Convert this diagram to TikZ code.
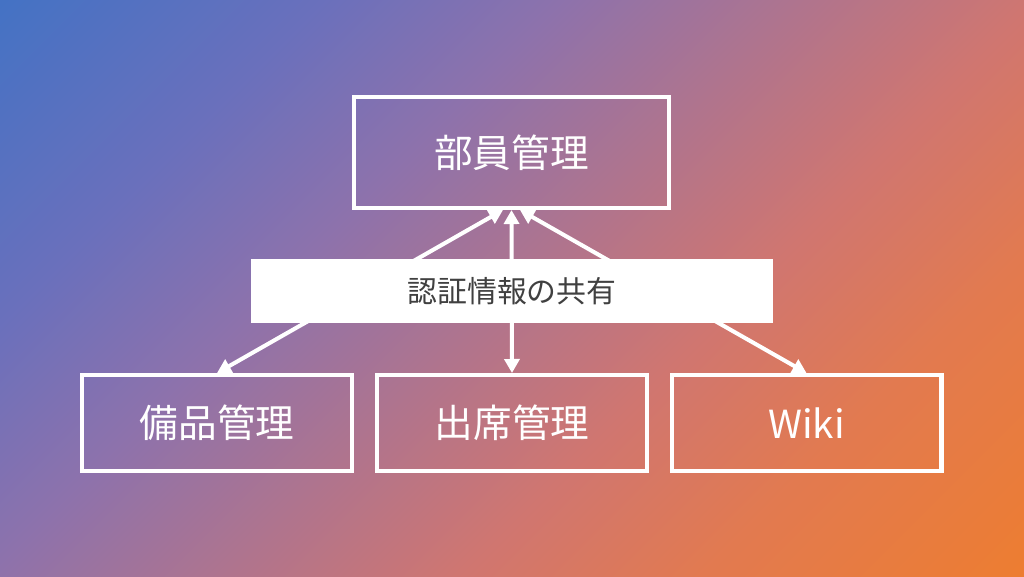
\documentclass[tikz,border=0pt]{standalone}
\usepackage{fontspec}
\newfontfamily\jpfont{Noto Sans CJK JP}
\usepackage{xcolor}
\usepackage{tikz}
\usetikzlibrary{positioning,arrows.meta}

\definecolor{bgblue}{HTML}{4472C4}
\definecolor{bgviolet}{HTML}{6A70BC}
\definecolor{bgpurple}{HTML}{8D72AC}
\definecolor{bgmid}{HTML}{AF748E}
\definecolor{bgsalmon}{HTML}{D07670}
\definecolor{bgcoral}{HTML}{E27A50}
\definecolor{bgorange}{HTML}{ED7D31}
\definecolor{labeltext}{HTML}{404040}

\pgfdeclarehorizontalshading{slidebg}{100bp}{color(0bp)=(bgblue); color(25bp)=(bgblue);
  color(35bp)=(bgviolet); color(42.5bp)=(bgpurple); color(50bp)=(bgmid);
  color(57.5bp)=(bgsalmon); color(65bp)=(bgcoral); color(75bp)=(bgorange); color(100bp)=(bgorange)}

\tikzset{
  sysbox/.style={draw=white, line width=2.3pt, text=white, inner sep=0pt,
    font=\jpfont\fontsize{22}{26}\selectfont},
  share/.style={fill=white, text=labeltext, inner sep=0pt,
    minimum width=10.44cm, minimum height=1.28cm,
    font=\jpfont\fontsize{17}{20}\selectfont},
  link/.style={draw=white, line width=2.3pt,
    {Triangle[length=0.28cm,width=0.3cm]}-{Triangle[length=0.28cm,width=0.3cm]}}
}

\begin{document}
\begin{tikzpicture}[x=0.02cm, y=-0.02cm]

\useasboundingbox (0,0) rectangle (1024,576);
\clip (0,0) rectangle (1024,576);

% background
\shade[shading=slidebg, shading angle=-45] (512,288) +(-566,-566) rectangle +(566,566);

\node[sysbox, minimum width=6.3cm, minimum height=2.22cm] (member) at (511.5,152.5) {部員管理};
\node[sysbox, minimum width=5.4cm, minimum height=1.92cm] (equip) at (217,423) {備品管理};
\node[sysbox, minimum width=5.4cm, minimum height=1.92cm] (attend) at (512,423) {出席管理};
\node[sysbox, minimum width=5.4cm, minimum height=1.92cm] (wiki) at (806.5,423) {Wiki};

\draw[link] ([xshift=-0.17cm]member.south) -- (equip.north);
\draw[link] (member.south) -- (attend.north);
\draw[link] ([xshift=0.17cm]member.south) -- (wiki.north);

\node[share] (sharing) at (512,291) {認証情報の共有};

\end{tikzpicture}
\end{document}
